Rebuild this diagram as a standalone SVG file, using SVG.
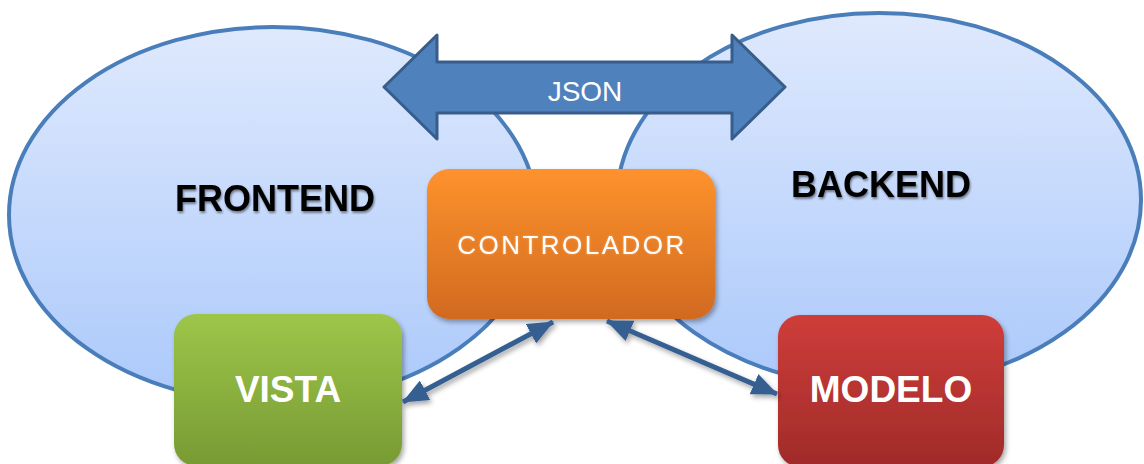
<svg xmlns="http://www.w3.org/2000/svg" width="1144" height="464" viewBox="0 0 1144 464">
  <defs>
    <linearGradient id="gEllipse" x1="0" y1="0" x2="0" y2="1">
      <stop offset="0" stop-color="#dfe9fd"/>
      <stop offset="1" stop-color="#abc9fb"/>
    </linearGradient>
    <linearGradient id="gOrange" x1="0" y1="0" x2="0" y2="1">
      <stop offset="0" stop-color="#fe922e"/>
      <stop offset="1" stop-color="#d16a1f"/>
    </linearGradient>
    <linearGradient id="gGreen" x1="0" y1="0" x2="0" y2="1">
      <stop offset="0" stop-color="#9dc649"/>
      <stop offset="1" stop-color="#789a34"/>
    </linearGradient>
    <linearGradient id="gRed" x1="0" y1="0" x2="0" y2="1">
      <stop offset="0" stop-color="#ce3d3a"/>
      <stop offset="1" stop-color="#a02b29"/>
    </linearGradient>
    <filter id="shadow" x="-10%" y="-10%" width="125%" height="130%">
      <feDropShadow dx="2" dy="3" stdDeviation="2.5" flood-color="#000" flood-opacity="0.35"/>
    </filter>
    <filter id="textShadow" x="-5%" y="-20%" width="115%" height="150%">
      <feDropShadow dx="1" dy="2" stdDeviation="1.2" flood-color="#000" flood-opacity="0.45"/>
    </filter>
    <filter id="glow" x="-5%" y="-30%" width="110%" height="160%">
      <feGaussianBlur in="SourceAlpha" stdDeviation="1.3" result="b"/>
      <feFlood flood-color="#ffc98a" flood-opacity="0.55"/>
      <feComposite in2="b" operator="in" result="g"/>
      <feMerge><feMergeNode in="g"/><feMergeNode in="SourceGraphic"/></feMerge>
    </filter>
    <marker id="head" viewBox="0 0 26 22" refX="25" refY="11" markerWidth="26" markerHeight="22" markerUnits="userSpaceOnUse" orient="auto-start-reverse">
      <path d="M0,0 L26,11 L0,22 Z" fill="#365f91"/>
    </marker>
    <style>
      .domain { fill: url(#gEllipse); stroke: #4a7ebb; stroke-width: 4; }
      .domainLabel { font-family: "Liberation Sans", Arial, sans-serif; font-weight: bold; font-size: 36px; fill: #000; text-anchor: middle; }
      .box { stroke: none; }
      .boxLabel { font-family: "Liberation Sans", Arial, sans-serif; font-weight: bold; font-size: 37px; fill: #fff; text-anchor: middle; }
      .link { stroke: #365f91; stroke-width: 5; fill: none; marker-start: url(#head); marker-end: url(#head); }
    </style>
  </defs>

  <rect width="1144" height="464" fill="#fff"/>

  <g id="frontend">
    <ellipse class="domain" cx="273" cy="215" rx="264" ry="188"/>
    <text class="domainLabel" x="275" y="211" filter="url(#textShadow)">FRONTEND</text>
  </g>

  <g id="backend">
    <ellipse class="domain" cx="879" cy="200" rx="262" ry="187"/>
    <text class="domainLabel" x="881" y="197" filter="url(#textShadow)">BACKEND</text>
  </g>

  <g id="json">
    <path d="M384,87 L437,35 L437,62 L732,62 L732,35 L785,87 L732,139 L732,113 L437,113 L437,139 Z" fill="#4f81bd" stroke="#385d8a" stroke-width="3" stroke-linejoin="round"/>
    <text x="585" y="101" font-family="'Liberation Sans', Arial, sans-serif" font-size="28" fill="#fff" text-anchor="middle">JSON</text>
  </g>

  <g id="controlador">
    <rect class="box" x="427" y="169" width="288" height="150" rx="22" fill="url(#gOrange)" filter="url(#shadow)"/>
    <text x="572" y="254" font-family="'Liberation Sans', Arial, sans-serif" font-size="26" letter-spacing="2.5" fill="#fff" text-anchor="middle" filter="url(#glow)">CONTROLADOR</text>
  </g>

  <g id="vista">
    <rect class="box" x="174" y="314" width="228" height="152" rx="22" fill="url(#gGreen)" filter="url(#shadow)"/>
    <text class="boxLabel" x="288" y="402">VISTA</text>
  </g>

  <g id="modelo">
    <rect class="box" x="778" y="315" width="226" height="152" rx="22" fill="url(#gRed)" filter="url(#shadow)"/>
    <text class="boxLabel" x="891" y="402">MODELO</text>
  </g>

  <g id="connectors" filter="url(#shadow)">
    <line class="link" x1="403" y1="402" x2="553" y2="322"/>
    <line class="link" x1="607" y1="321" x2="777" y2="394"/>
  </g>
</svg>
